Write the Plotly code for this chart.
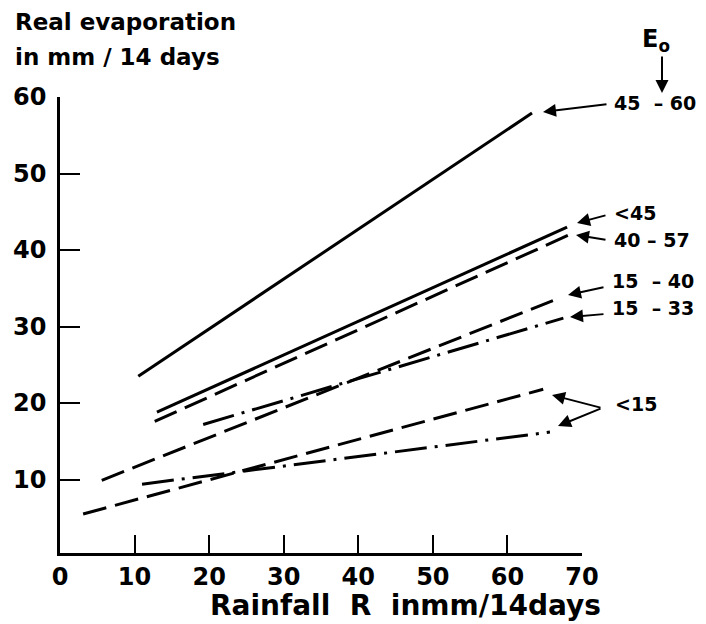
import plotly.graph_objects as go

# ---- data: Rainfall R (mm/14 days) vs real evaporation (mm/14 days) ----
rain_4560 = [10.5, 63.3]
evap_4560 = [23.5, 57.9]

rain_lt45 = [13.0, 68.0]
evap_lt45 = [18.8, 43.0]

rain_4057 = [12.7, 68.1]
evap_4057 = [17.6, 41.9]

rain_1540 = [5.6, 66.1]
evap_1540 = [9.9, 33.4]

rain_1533 = [19.2, 67.5]
evap_1533 = [17.2, 31.1]

rain_lt15a = [3.1, 64.8]
evap_lt15a = [5.5, 21.8]

rain_lt15b = [11.0, 65.7]
evap_lt15b = [9.4, 16.2]

x_ticks = [0, 10, 20, 30, 40, 50, 60, 70]
y_ticks = [10, 20, 30, 40, 50, 60]

FONT = "DejaVu Sans"
BLACK = "#000000"
DASH = "24px,9px"
DASHDOT = "32px,8px,3px,8px"

series = [
    (rain_4560, evap_4560, "solid", "45 – 60"),
    (rain_lt45, evap_lt45, "solid", "<45"),
    (rain_4057, evap_4057, DASH, "40 – 57"),
    (rain_1540, evap_1540, DASH, "15 – 40"),
    (rain_1533, evap_1533, DASHDOT, "15 – 33"),
    (rain_lt15a, evap_lt15a, DASH, "<15"),
    (rain_lt15b, evap_lt15b, DASHDOT, "<15"),
]

W, H = 706, 624
OFF = 8                      # page body margin
L, T = 60 - OFF, 97 - OFF
R = W - (582 - OFF)
B = H - (553 - OFF)
pw, ph = W - L - R, H - T - B


def px(x):   # page pixel x -> paper fraction
    return (x - OFF - L) / pw


def py(y):   # page pixel y -> paper fraction
    return 1 - (y - OFF - T) / ph


fig = go.Figure()
for xs, ys, dash, name in series:
    fig.add_trace(go.Scatter(x=xs, y=ys, mode="lines", name=name,
                             line=dict(color=BLACK, width=3, dash=dash),
                             showlegend=False, hoverinfo="skip"))


def font(size):
    return dict(family=FONT, size=size, color=BLACK, weight=700)


NB = "\u00a0"
annotations = []

# labels on the right (page pixel positions, left edge / vertical centre)
label_specs = [
    ("45" + NB * 2 + "–" + NB + "60", 612, 103),
    ("<45", 612, 213),
    ("40" + NB + "–" + NB + "57", 612, 240),
    ("15" + NB * 2 + "–" + NB + "40", 610, 281),
    ("15" + NB * 2 + "–" + NB + "33", 610, 308),
    ("<15", 613, 404),
]
for txt, x, y in label_specs:
    annotations.append(dict(text=txt, x=px(x), y=py(y), xref="paper", yref="paper",
                            xanchor="left", yanchor="middle", showarrow=False,
                            font=font(19)))

# arrows (tail x, tail y, head x, head y) in page pixels
arrow_specs = [
    (608, 104, 543, 112),
    (607, 215, 577, 223),
    (607, 240, 576, 235),
    (605, 287, 568, 295),
    (605, 314, 570, 317),
    (602, 408, 552, 395),
    (602, 408, 558, 426),
    (662, 55, 662, 93),
]
for tx, ty, hx, hy in arrow_specs:
    annotations.append(dict(text="", x=px(hx), y=py(hy), xref="paper", yref="paper",
                            ax=tx - hx, ay=ty - hy, axref="pixel", ayref="pixel",
                            showarrow=True, arrowhead=2, arrowsize=1.3,
                            arrowwidth=2, arrowcolor=BLACK, standoff=0, startstandoff=0))

# E_o header
annotations.append(dict(text="E<sub>o</sub>", x=px(640), y=py(40), xref="paper", yref="paper",
                        xanchor="left", yanchor="middle", showarrow=False, font=font(24)))

# y-axis title, two lines at top left
annotations.append(dict(text="Real evaporation", x=px(13), y=py(22), xref="paper", yref="paper",
                        xanchor="left", yanchor="middle", showarrow=False, font=font(23)))
annotations.append(dict(text="in mm / 14 days", x=px(13), y=py(57), xref="paper", yref="paper",
                        xanchor="left", yanchor="middle", showarrow=False, font=font(23)))

# x-axis title
annotations.append(dict(text="Rainfall" + NB * 2 + "R" + NB * 2 + "inmm/14days", x=px(405), y=py(605),
                        xref="paper", yref="paper", xanchor="center", yanchor="middle",
                        showarrow=False, font=font(28)))

fig.update_layout(
    width=W, height=H,
    margin=dict(l=L, r=R, t=T, b=B, pad=0, autoexpand=False),
    paper_bgcolor="white", plot_bgcolor="white",
    font=dict(family=FONT, color=BLACK),
    annotations=annotations,
    xaxis=dict(range=[0, 70], tickvals=x_ticks, ticktext=[str(v) for v in x_ticks],
               ticks="inside", ticklen=18, tickwidth=2, tickcolor=BLACK,
               showline=True, linewidth=2.5, linecolor=BLACK, showgrid=False,
               zeroline=False, tickfont=font(24), automargin=False),
    yaxis=dict(range=[0.4, 60], tickvals=y_ticks, ticktext=[str(v) for v in y_ticks],
               ticks="inside", ticklen=20, tickwidth=2, tickcolor=BLACK,
               showline=True, linewidth=2.5, linecolor=BLACK, showgrid=False,
               zeroline=False, tickfont=font(24), ticklabelstandoff=6, automargin=False),
)

fig.write_html("out.html")
